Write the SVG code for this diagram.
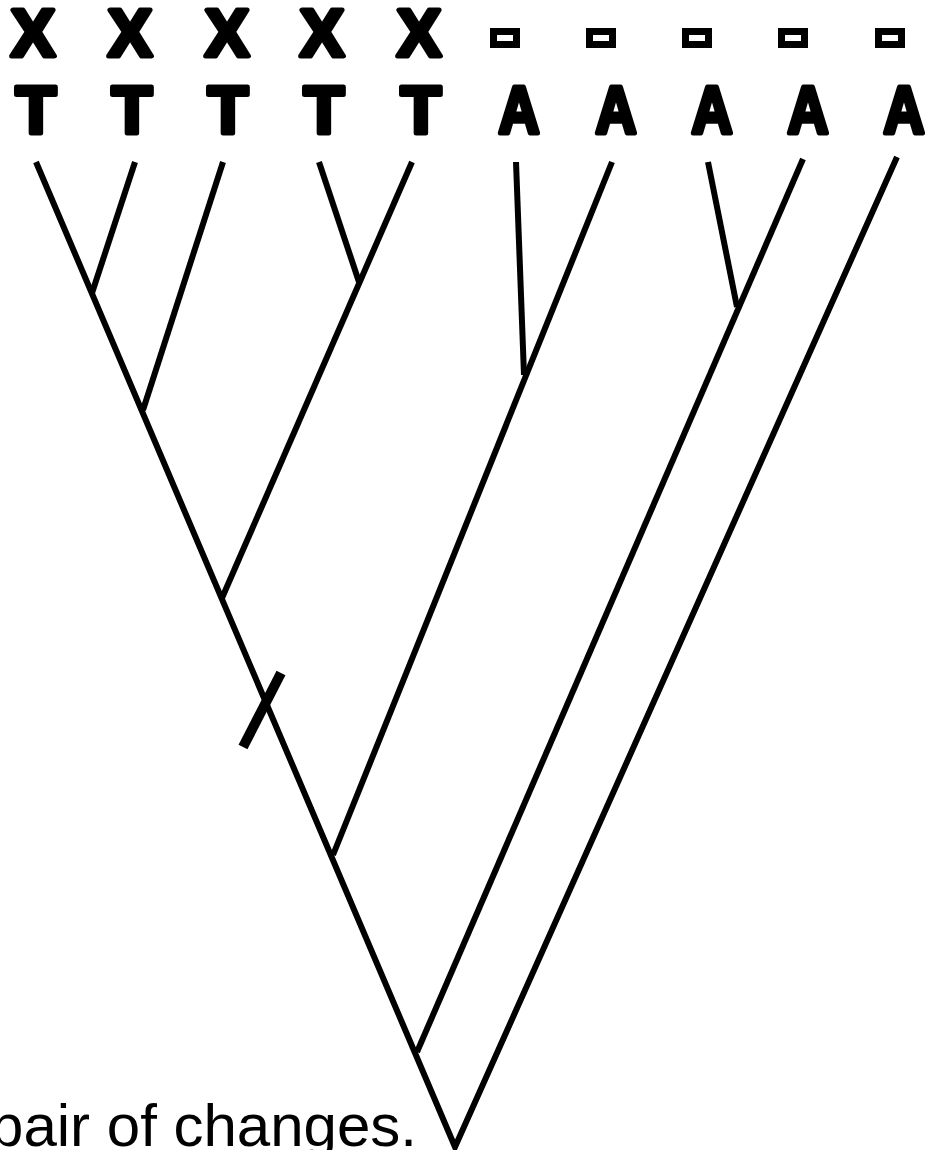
<svg xmlns="http://www.w3.org/2000/svg" width="930" height="1150" viewBox="0 0 930 1150">
<style>
.lbl{font-family:"Liberation Sans",Arial,sans-serif;font-weight:bold;font-size:66px;fill:#000;stroke:#000;stroke-width:5;stroke-linejoin:round;text-anchor:middle}
.box{fill:#fff;stroke:#000;stroke-width:7}
.br{fill:none;stroke:#000;stroke-width:6}
.cap{font-family:"Liberation Sans",Arial,sans-serif;font-size:60px;fill:#000;text-anchor:end}
</style>
<rect width="930" height="1150" fill="#fff"/>
<g id="connectors">
<polyline class="br" points="36,162 455,1147 897,157" stroke-linejoin="miter" stroke-miterlimit="20"/>
<line class="br" x1="135" y1="162" x2="92" y2="293"/>
<line class="br" x1="223" y1="162" x2="143" y2="410"/>
<line class="br" x1="319" y1="162" x2="359" y2="282"/>
<line class="br" x1="412" y1="162" x2="222" y2="598"/>
<line class="br" x1="516" y1="162" x2="524" y2="375"/>
<line class="br" x1="612" y1="162" x2="333" y2="855"/>
<line class="br" x1="708" y1="162" x2="737" y2="307"/>
<line class="br" x1="803" y1="159" x2="417" y2="1052"/>
</g>
<g id="change-mark">
<line x1="243" y1="747" x2="281" y2="673" stroke="#000" stroke-width="10"/>
</g>
<g id="taxon-1"><text class="lbl" x="33" y="56">X</text><text class="lbl" x="36" y="133">T</text></g>
<g id="taxon-2"><text class="lbl" x="130" y="56">X</text><text class="lbl" x="132" y="133">T</text></g>
<g id="taxon-3"><text class="lbl" x="227" y="56">X</text><text class="lbl" x="228" y="133">T</text></g>
<g id="taxon-4"><text class="lbl" x="322" y="56">X</text><text class="lbl" x="324" y="133">T</text></g>
<g id="taxon-5"><text class="lbl" x="419" y="56">X</text><text class="lbl" x="421" y="133">T</text></g>
<g id="taxon-6"><rect class="box" x="493.5" y="31.5" width="23" height="13"/><text class="lbl" transform="translate(519,133) scale(0.86,1)">A</text></g>
<g id="taxon-7"><rect class="box" x="589.5" y="31.5" width="23" height="13"/><text class="lbl" transform="translate(616,133) scale(0.86,1)">A</text></g>
<g id="taxon-8"><rect class="box" x="685.5" y="31.5" width="23" height="13"/><text class="lbl" transform="translate(712,133) scale(0.86,1)">A</text></g>
<g id="taxon-9"><rect class="box" x="781.5" y="31.5" width="23" height="13"/><text class="lbl" transform="translate(808,133) scale(0.86,1)">A</text></g>
<g id="taxon-10"><rect class="box" x="878.5" y="31.5" width="23" height="13"/><text class="lbl" transform="translate(904,133) scale(0.86,1)">A</text></g>
<text class="cap" x="417" y="1146">pair of changes.</text>
</svg>
